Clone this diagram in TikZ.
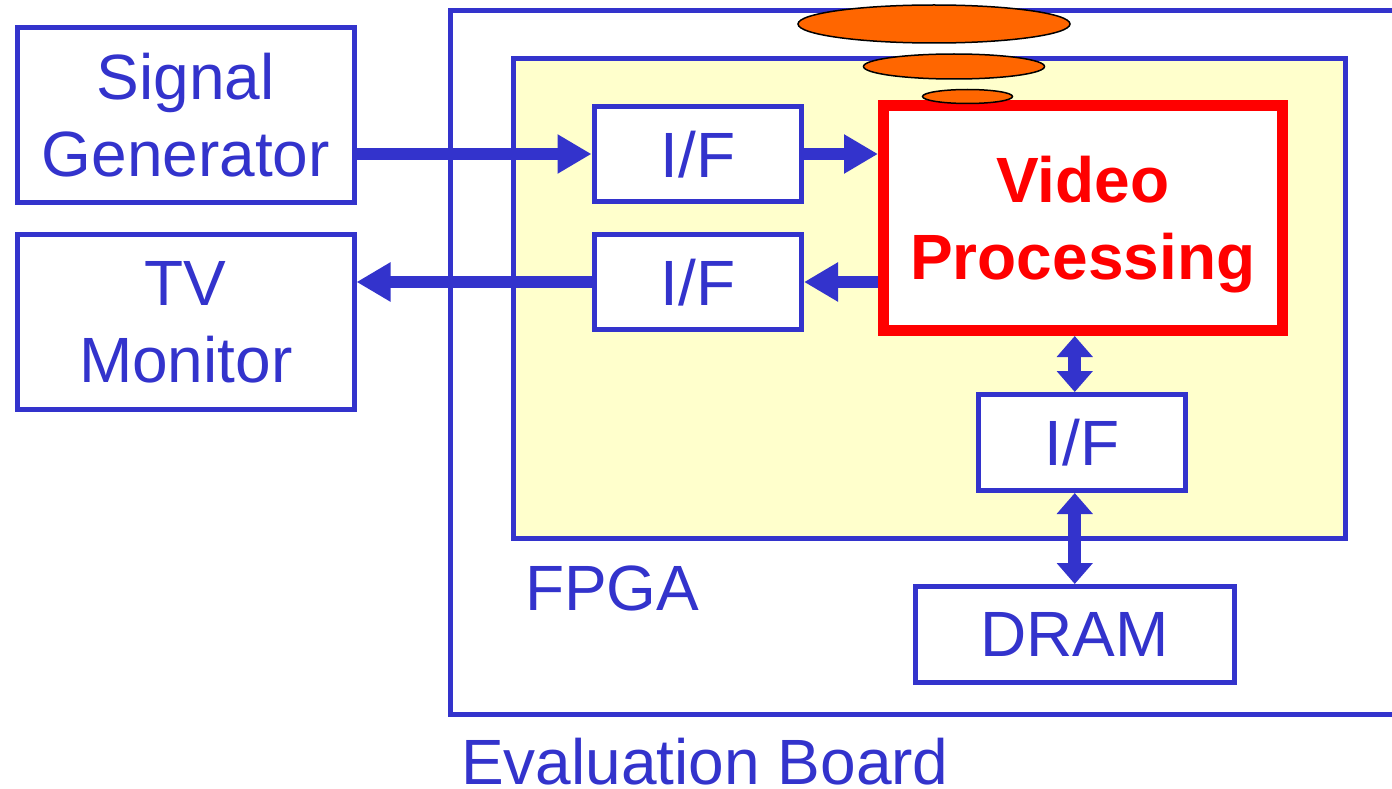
\documentclass[tikz,border=0pt]{standalone}
\usepackage{fontspec}
\setmainfont{Liberation Sans}
\usetikzlibrary{arrows.meta}
\definecolor{bblue}{HTML}{3333CC}
\definecolor{fpgafill}{HTML}{FFFFCC}
\definecolor{vred}{HTML}{FF0000}
\definecolor{blob}{HTML}{FF6600}
\begin{document}
\begin{tikzpicture}[x=1pt,y=-1pt,
  box/.style={draw=bblue, line width=5pt, fill=white, inner sep=0pt, text=bblue,
    font=\fontsize{64}{77}\selectfont, align=center, text depth=0pt},
  harrow/.style={draw=bblue, line width=12pt, -{Triangle[length=34pt 0 0,width=37pt 0 0]}},
  varrow/.style={draw=bblue, line width=13pt,
    {Triangle[length=21pt 0 0,width=35pt 0 0]}-{Triangle[length=21pt 0 0,width=35pt 0 0]}},
  lbl/.style={text=bblue, font=\fontsize{64}{77}\selectfont, inner sep=0pt},
  blobstyle/.style={draw=black, fill=blob, line width=1.5pt}
]
\useasboundingbox (0,0) rectangle (1392,789);
\fill[white] (0,0) rectangle (1392,789);
% evaluation board (right edge outside the picture)
\draw[bblue, line width=5pt] (1400,10.5) -- (450,10.5) -- (450,714.5) -- (1400,714.5);
% FPGA
\node[draw=bblue, fill=fpgafill, line width=5pt, inner sep=0pt,
  minimum width=832pt, minimum height=480pt] (fpga) at (929.5,298.5) {};
% boxes
\node[box, minimum width=336.5pt, minimum height=175.5pt] (sg) at (185.75,115) {Signal\\Generator};
\node[box, minimum width=336.5pt, minimum height=175pt] (tv) at (185.75,322) {TV\\Monitor};
\node[box, minimum width=207.5pt, minimum height=95pt] (if1) at (697.75,154) {I/F};
\node[box, minimum width=207.5pt, minimum height=95pt] (if2) at (697.75,282) {I/F};
\node[box, minimum width=207pt, minimum height=96pt] (if3) at (1082,442.5) {I/F};
\node[box, minimum width=318.5pt, minimum height=96pt] (dram) at (1074.75,634.5) {DRAM};
\node[draw=vred, line width=11pt, fill=white, inner sep=0pt, text=vred, align=center,
  text depth=0pt, font=\fontsize{64}{77}\selectfont\bfseries,
  minimum width=398.5pt, minimum height=224.5pt] (vp) at (1082.75,218.25) {Video\\Processing};
% connectors
\draw[harrow] (sg.east |- if1.west) -- (if1.west);
\draw[harrow] (if1.east) -- (vp.west |- if1.east);
\draw[harrow] (vp.west |- if2.east) -- (if2.east);
\draw[harrow] (if2.west) -- (tv.east |- if2.west);
\draw[varrow] (dram.north |- vp.south) -- (dram.north |- if3.north);
\draw[varrow] (dram.north |- if3.south) -- (dram.north);
% labels
\node[lbl, anchor=base west] (fpgalbl) at (525,610) {FPGA};
\node[lbl, anchor=base west] (evallbl) at (461,784) {Evaluation Board};
% orange blobs
\draw[blobstyle] (934,24) ellipse [x radius=136pt, y radius=19pt];
\draw[blobstyle] (954,66.5) ellipse [x radius=90.5pt, y radius=12.5pt];
\draw[blobstyle] (967.5,96.5) ellipse [x radius=45pt, y radius=7pt];
\end{tikzpicture}
\end{document}
